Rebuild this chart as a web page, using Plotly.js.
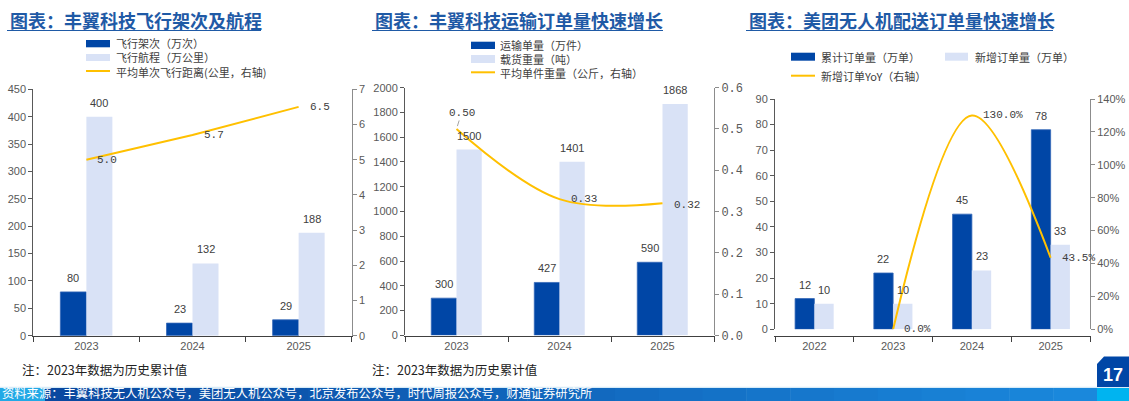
<!DOCTYPE html>
<html><head><meta charset="utf-8">
<script src="https://cdn.plot.ly/plotly-3.0.1.min.js"></script>
<style>html,body{margin:0;padding:0;background:#fff;overflow:hidden}</style>
</head><body><div id="chart" style="width:1129px;height:401px"></div>
<script>
// ---- data ----
const years1 = ['2023','2024','2025'];
const flights = [80, 23, 29];
const distance = [400, 132, 188];
const avgDistance = [5.0, 5.7, 6.5];

const years2 = ['2023','2024','2025'];
const orders = [300, 427, 590];
const cargo = [1500, 1401, 1868];
const avgWeight = [0.50, 0.33, 0.32];

const years3 = ['2022','2023','2024','2025'];
const cumOrders = [12, 22, 45, 78];
const newOrders = [10, 10, 23, 33];
const yoy = [null, 0.0, 1.30, 0.435];

const titles = ['图表：丰翼科技飞行架次及航程','图表：丰翼科技运输订单量快速增长','图表：美团无人机配送订单量快速增长'];
const legend1 = ['飞行架次（万次）','飞行航程（万公里）','平均单次飞行距离(公里，右轴)'];
const legend2 = ['运输单量（万件）','载货重量（吨）','平均单件重量（公斤，右轴）'];
const legend3 = ['累计订单量（万单）','新增订单量（万单）','新增订单YoY（右轴）'];
const noteText = '注：2023年数据为历史累计值';
const sourceText = '资料来源：丰翼科技无人机公众号，美团无人机公众号，北京发布公众号，时代周报公众号，财通证券研究所';
const pageNo = '17';

// ---- style ----
const W = 1129, H = 401;
const DARK = '#0046A6', LIGHT = '#D9E2F6', GOLD = '#FFC000';
const CJK = 'Noto Sans CJK SC, sans-serif';
const LAT = 'Liberation Sans, Arial, sans-serif';
const MONO = 'Liberation Mono, monospace';
const fx = p => p / W, fy = p => 1 - p / H;
const OFF = 0.1225;

const tickF = {family: LAT, size: 11, color: '#595959'};
function xAx(n, dom) {
  return {domain: [fx(dom[0]), fx(dom[1])], type: 'category', range: [-0.5, n - 0.5],
    showline: true, linecolor: '#404040', linewidth: 1, ticks: 'outside', tickson: 'boundaries',
    ticklen: 5, tickcolor: '#404040', tickfont: tickF, showgrid: false, zeroline: false, fixedrange: true};
}
function yL(anchor, dom, range, dtick) {
  return {anchor: anchor, domain: [fy(dom[1]), fy(dom[0])], range: range, dtick: dtick,
    showline: true, linecolor: '#595959', linewidth: 1, ticks: 'outside', ticklen: 4, tickcolor: '#595959',
    tickfont: tickF, showgrid: false, zeroline: false, fixedrange: true};
}
function yR(anchor, over, range, dtick, fmt, font) {
  return {anchor: anchor, overlaying: over, side: 'right', range: range, dtick: dtick, tickformat: fmt,
    showline: true, linecolor: '#8c8c8c', linewidth: 1, ticks: 'outside', ticklen: 4, tickcolor: '#8c8c8c',
    tickfont: font || tickF, showgrid: false, zeroline: false, fixedrange: true};
}

const traces = [
  {type: 'bar', x: years1, y: flights, xaxis: 'x', yaxis: 'y', marker: {color: DARK, line: {color: '#3367b8', width: 0.8}}},
  {type: 'bar', x: years1, y: distance, xaxis: 'x', yaxis: 'y', marker: {color: LIGHT}},
  {type: 'scatter', mode: 'lines', x: years1, y: avgDistance, xaxis: 'x', yaxis: 'y2', line: {color: GOLD, width: 2}},
  {type: 'bar', x: years2, y: orders, xaxis: 'x2', yaxis: 'y3', marker: {color: DARK, line: {color: '#3367b8', width: 0.8}}},
  {type: 'bar', x: years2, y: cargo, xaxis: 'x2', yaxis: 'y3', marker: {color: LIGHT}},
  {type: 'scatter', mode: 'lines', x: years2, y: avgWeight, xaxis: 'x2', yaxis: 'y4', line: {color: GOLD, width: 2, shape: 'spline', smoothing: 1}},
  {type: 'bar', x: years3, y: cumOrders, xaxis: 'x3', yaxis: 'y5', marker: {color: DARK, line: {color: '#3367b8', width: 0.8}}},
  {type: 'bar', x: years3, y: newOrders, xaxis: 'x3', yaxis: 'y5', marker: {color: LIGHT}},
  {type: 'scatter', mode: 'lines', x: years3, y: yoy, xaxis: 'x3', yaxis: 'y6', line: {color: GOLD, width: 2, shape: 'spline', smoothing: 1}}
];

const ann = [];
const shapes = [];
const labF = {family: LAT, size: 11, color: '#404040'};
const monoF = {family: MONO, size: 11, color: '#404040'};

function barLabels(vals, xr, yr, off) {
  vals.forEach((v, i) => ann.push({x: i + off, y: v, xref: xr, yref: yr, text: String(v), showarrow: false,
    yanchor: 'middle', yshift: 14, font: labF}));
}
barLabels(flights, 'x', 'y', -OFF); barLabels(distance, 'x', 'y', OFF);
barLabels(orders, 'x2', 'y3', -OFF); barLabels(cargo, 'x2', 'y3', OFF);
barLabels(cumOrders, 'x3', 'y5', -OFF); barLabels(newOrders, 'x3', 'y5', OFF);

avgDistance.forEach((v, i) => ann.push({x: i, y: v, xref: 'x', yref: 'y2', text: v.toFixed(1), showarrow: false,
  xanchor: 'left', xshift: 9, font: monoF}));
avgWeight.forEach((v, i) => {
  if (i === 0) {
    ann.push({x: i, y: v, xref: 'x2', yref: 'y4', text: v.toFixed(2), showarrow: true, arrowhead: 0,
      arrowwidth: 0.8, arrowcolor: '#8c8c8c', ax: 5, ay: -16, standoff: 3, font: monoF});
  } else {
    ann.push({x: i, y: v, xref: 'x2', yref: 'y4', text: v.toFixed(2), showarrow: false,
      xanchor: 'left', xshift: 9, yshift: i === 2 ? -2 : 0, font: monoF});
  }
});
yoy.forEach((v, i) => { if (v !== null) ann.push({x: i, y: v, xref: 'x3', yref: 'y6', text: (v * 100).toFixed(1) + '%',
  showarrow: false, xanchor: 'left', xshift: 9, font: monoF}); });

// titles with underline
const titleX = [[8, 261], [373, 663], [747, 1053]];
titles.forEach((t, k) => {
  ann.push({x: fx(titleX[k][0]), y: fy(20.5), xref: 'paper', yref: 'paper', xanchor: 'left', yanchor: 'middle',
    text: '<b>' + t + '</b>', showarrow: false, font: {family: CJK, size: 18, color: '#1F5AA6'}});
  shapes.push({type: 'line', xref: 'paper', yref: 'paper', x0: fx(titleX[k][0] - 1), x1: fx(titleX[k][1]),
    y0: fy(30.5), y1: fy(30.5), line: {color: '#1F5AA6', width: 1}});
});

// custom legends
const legF = {family: CJK, size: 11, color: '#404040'};
function legRect(x0, x1, y0, y1, c) {
  shapes.push({type: 'rect', xref: 'paper', yref: 'paper', x0: fx(x0), x1: fx(x1), y0: fy(y1), y1: fy(y0), fillcolor: c, line: {width: 0}});
}
function legLine(x0, x1, y) {
  shapes.push({type: 'line', xref: 'paper', yref: 'paper', x0: fx(x0), x1: fx(x1), y0: fy(y), y1: fy(y), line: {color: GOLD, width: 2}});
}
function legText(x, y, t) {
  ann.push({x: fx(x), y: fy(y), xref: 'paper', yref: 'paper', xanchor: 'left', yanchor: 'middle', text: t, showarrow: false,
    borderpad: 0, font: legF});
}
legRect(86, 110, 40, 47.3, DARK); legText(115, 43.3, legend1[0]);
legRect(86, 110, 54, 61, LIGHT); legText(115, 57.3, legend1[1]);
legLine(86, 110, 71); legText(115, 72.3, legend1[2]);

legRect(471, 495, 41.7, 49, DARK); legText(499, 45.3, legend2[0]);
legRect(471, 495, 55, 63, LIGHT); legText(499, 59.3, legend2[1]);
legLine(471, 495, 72.3); legText(499, 73.3, legend2[2]);

legRect(791, 815, 52.7, 60.7, DARK); legText(820, 56.7, legend3[0]);
legRect(945, 968, 52.7, 60.7, LIGHT); legText(974, 56.7, legend3[1]);
legLine(791, 815, 75.7); legText(820, 75.7, legend3[2]);

// notes
[20, 370].forEach(x => ann.push({x: fx(x), y: fy(369), xref: 'paper', yref: 'paper', xanchor: 'left', yanchor: 'middle',
  text: noteText, showarrow: false, font: {family: CJK, size: 12.5, color: '#222'}}));

// footer bar
shapes.push({type: 'rect', xref: 'paper', yref: 'paper', x0: 0, x1: 1, y0: fy(388), y1: fy(386.8), fillcolor: '#d6ebf8', line: {width: 0}});
shapes.push({type: 'rect', xref: 'paper', yref: 'paper', x0: 0, x1: fx(45), y0: 0, y1: fy(388), fillcolor: '#22A9E6', line: {width: 0}});
const c0 = [10, 72, 160], c1 = [26, 136, 220];
const steps = 24;
for (let s = 0; s < steps; s++) {
  const a = 45 + (1097 - 45) * s / steps, b = 45 + (1097 - 45) * (s + 1) / steps + 0.5;
  const t = s / (steps - 1);
  const c = c0.map((v, j) => Math.round(v + (c1[j] - v) * t));
  shapes.push({type: 'rect', xref: 'paper', yref: 'paper', x0: fx(a), x1: fx(Math.min(b, 1097)), y0: 0, y1: fy(388),
    fillcolor: 'rgb(' + c.join(',') + ')', line: {width: 0}});
}
shapes.push({type: 'rect', xref: 'paper', yref: 'paper', x0: fx(1097), x1: 1, y0: 0, y1: fy(388), fillcolor: '#00B4F0', line: {width: 0}});
ann.push({x: fx(1), y: 0, xref: 'paper', yref: 'paper', xanchor: 'left', yanchor: 'bottom', text: sourceText,
  showarrow: false, borderpad: 0, height: 14, valign: 'middle', font: {family: CJK, size: 12.3, color: '#ffffff'}});

// page number box
const P = (x, y) => fx(x).toFixed(5) + ',' + fy(y).toFixed(5);
shapes.push({type: 'path', xref: 'paper', yref: 'paper',
  path: 'M' + P(1097, 387) + ' L' + P(1097, 364) + ' L' + P(1104, 356.5) + ' L' + P(1129, 356.5) + ' L' + P(1129, 387) + ' Z',
  fillcolor: '#0046A6', line: {width: 0}});
ann.push({x: fx(1113), y: fy(374.5), xref: 'paper', yref: 'paper', xanchor: 'center', yanchor: 'middle',
  text: '<b>' + pageNo + '</b>', showarrow: false, font: {family: LAT, size: 18, color: '#ffffff'}});

const layout = {
  width: W, height: H, margin: {l: 0, r: 0, t: 0, b: 0}, paper_bgcolor: '#fff', plot_bgcolor: 'rgba(0,0,0,0)',
  showlegend: false, barmode: 'group', bargap: 0.51, bargroupgap: 0, hovermode: false,
  xaxis: xAx(3, [33.3, 351.7]),
  yaxis: yL('x', [89.3, 335.7], [0, 450], 50),
  yaxis2: yR('x', 'y', [0, 7], 1, 'd'),
  xaxis2: xAx(3, [405, 714]),
  yaxis3: yL('x2', [87.7, 335.3], [0, 2000], 200),
  yaxis4: yR('x2', 'y3', [0, 0.6], 0.1, '.1f', {family: MONO, size: 12, color: '#595959'}),
  xaxis3: xAx(4, [775, 1090]),
  yaxis5: yL('x3', [99, 329.3], [0, 90], 10),
  yaxis6: yR('x3', 'y5', [0, 1.4], 0.2, '.0%'),
  annotations: ann, shapes: shapes
};
Plotly.newPlot('chart', traces, layout, {staticPlot: true, displayModeBar: false});
</script></body></html>
